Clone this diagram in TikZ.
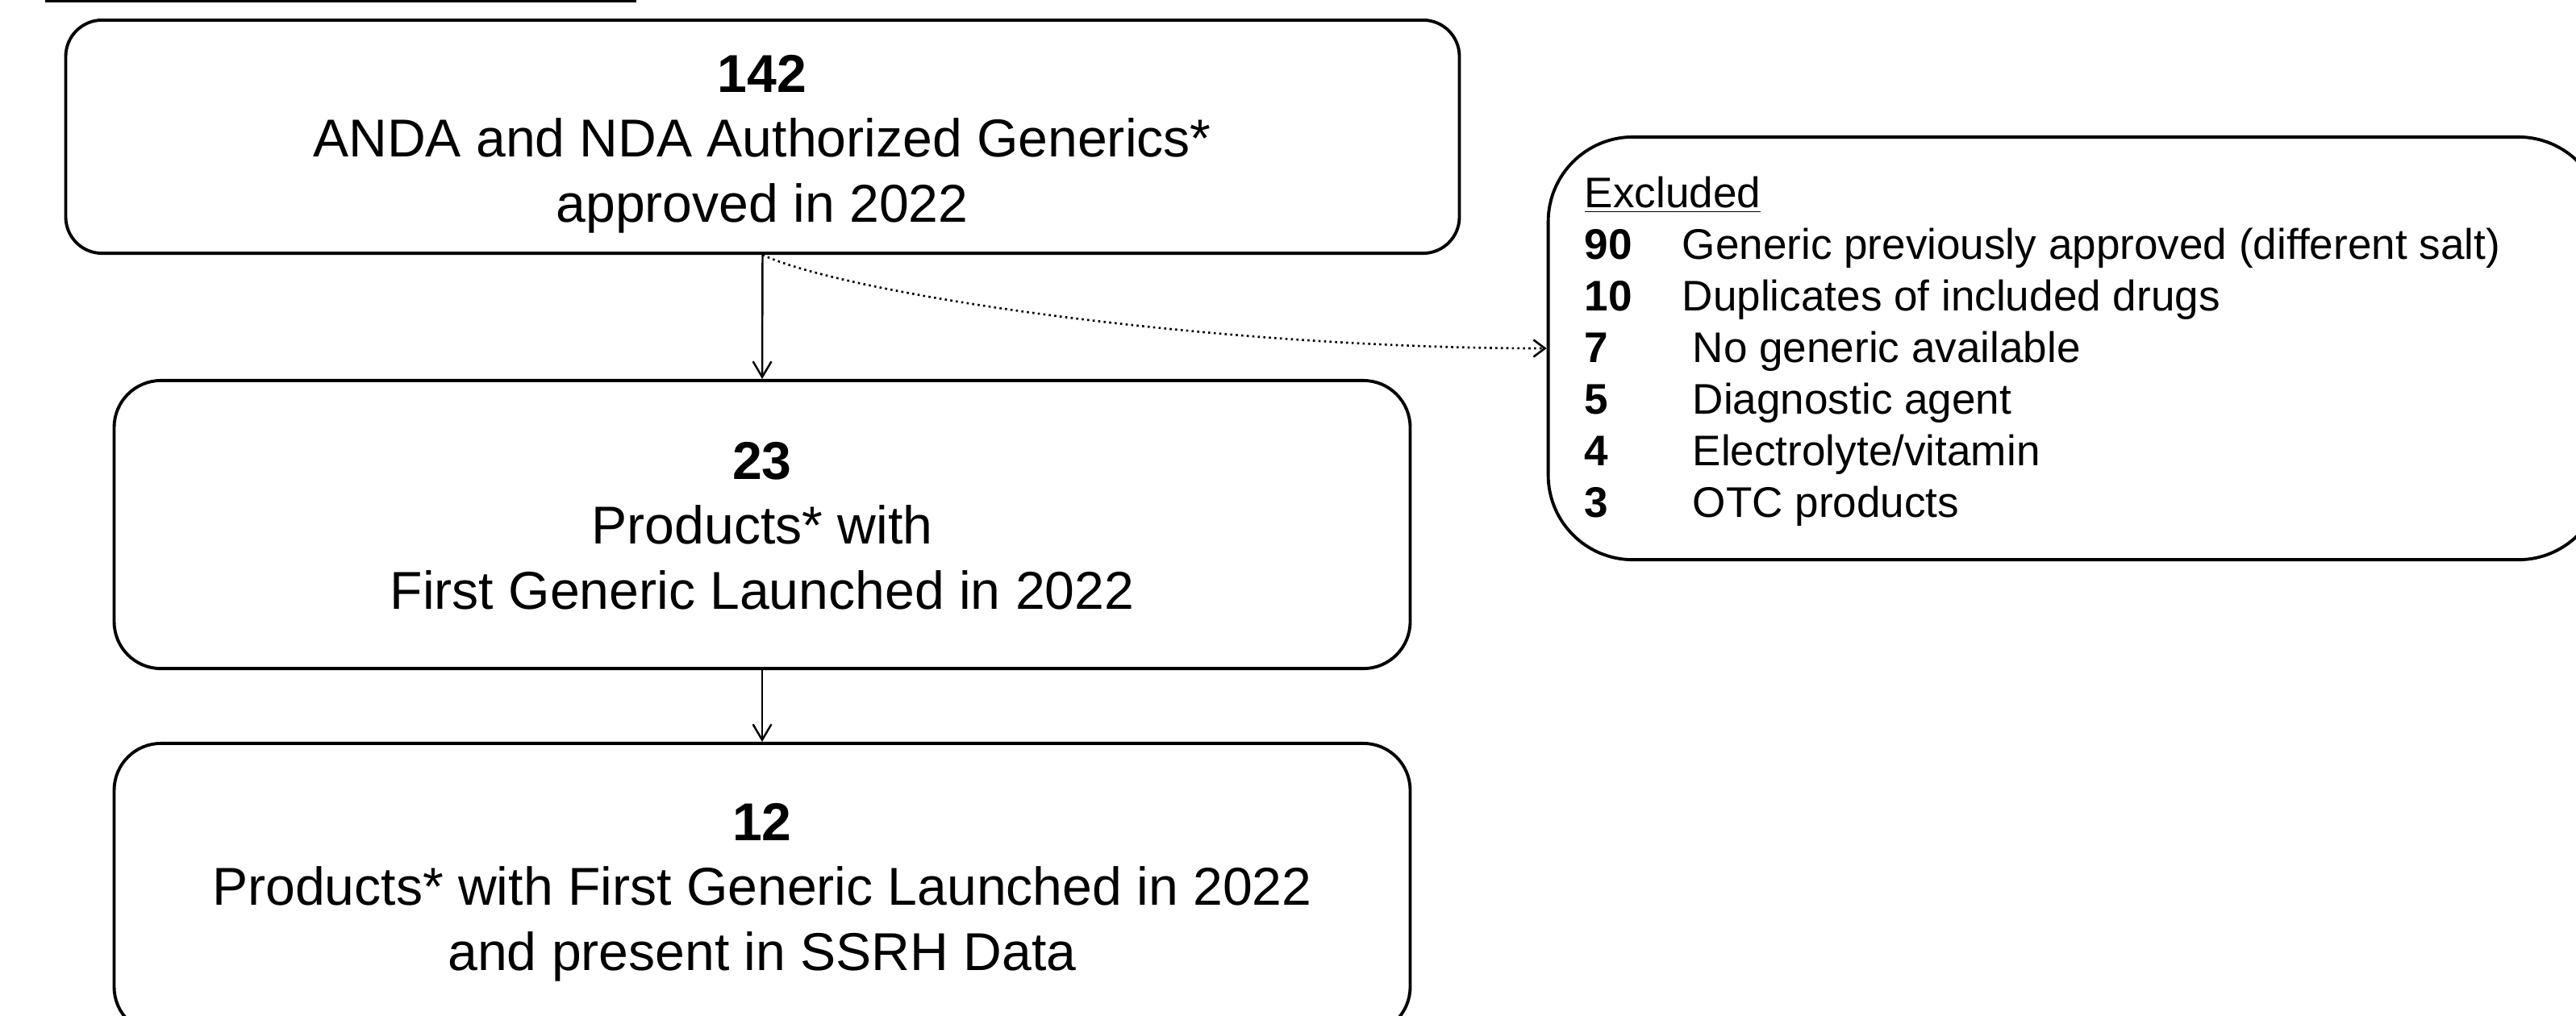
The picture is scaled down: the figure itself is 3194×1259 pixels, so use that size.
\documentclass[tikz,border=0pt]{standalone}
\usepackage{fontspec}
\setmainfont{Liberation Sans}
\usetikzlibrary{arrows.meta}
\begin{document}
\begin{tikzpicture}[x=0.01cm,y=-0.01cm,
  box/.style={draw, line width=1.1pt, inner sep=0pt},
  maintext/.style={inner sep=0pt, align=center, font=\fontsize{18.8pt}{22.8pt}\selectfont},
  extext/.style={inner sep=0pt, align=left, font=\fontsize{15.1pt}{18.2pt}\selectfont},
  arr/.style={line width=0.7pt, -{Straight Barb[length=5.5pt,width=6.5pt]}},
  dotarr/.style={line width=0.75pt, dash pattern=on 0.75pt off 1.2pt, -{Straight Barb[length=4pt,width=6pt]}}
]
\useasboundingbox (0,0) rectangle (3194,1259);
% cut-off header underline
\draw[line width=1pt] (56,1.5) -- (789,1.5);
% boxes
\node[box, rounded corners=0.45cm, minimum width=17.27cm, minimum height=2.89cm] (b1) at (945.5,169.5) {};
\node[box, rounded corners=0.58cm, minimum width=16.06cm, minimum height=3.57cm] (b2) at (945,650.5) {};
\node[box, rounded corners=0.58cm, minimum width=16.06cm, minimum height=3.60cm] (b3) at (945,1102) {};
\node[box, rounded corners=1.05cm, minimum width=13.07cm, minimum height=5.24cm] (ex) at (2573.5,432) {};
% texts (anchor=base is the baseline of the last line)
\node[maintext, anchor=base] (t1) at (945,275) {\textbf{142}\\ANDA and NDA Authorized Generics*\\approved in 2022};
\node[maintext, anchor=base] (t2) at (945,755) {\textbf{23}\\Products* with\\First Generic Launched in 2022};
\node[maintext, anchor=base] (t3) at (945,1203) {\textbf{12}\\Products* with First Generic Launched in 2022\\and present in SSRH Data};
\node[extext, anchor=base west] (t4) at (1964,641) {\underline{Excluded}\\
\makebox[34.4pt][l]{\textbf{90}}Generic previously approved (different salt)\\
\makebox[34.4pt][l]{\textbf{10}}Duplicates of included drugs\\
\makebox[38.1pt][l]{\textbf{7}}No generic available\\
\makebox[38.1pt][l]{\textbf{5}}Diagnostic agent\\
\makebox[38.1pt][l]{\textbf{4}}Electrolyte/vitamin\\
\makebox[38.1pt][l]{\textbf{3}}OTC products};
% connectors
\draw[arr] (b1.south) -- (b2.north);
\draw[arr] (b2.south) -- (b3.north);
\draw[dotarr] (b1.south) .. controls (1050,365) and (1500,432) .. (ex.west);
\end{tikzpicture}
\end{document}
